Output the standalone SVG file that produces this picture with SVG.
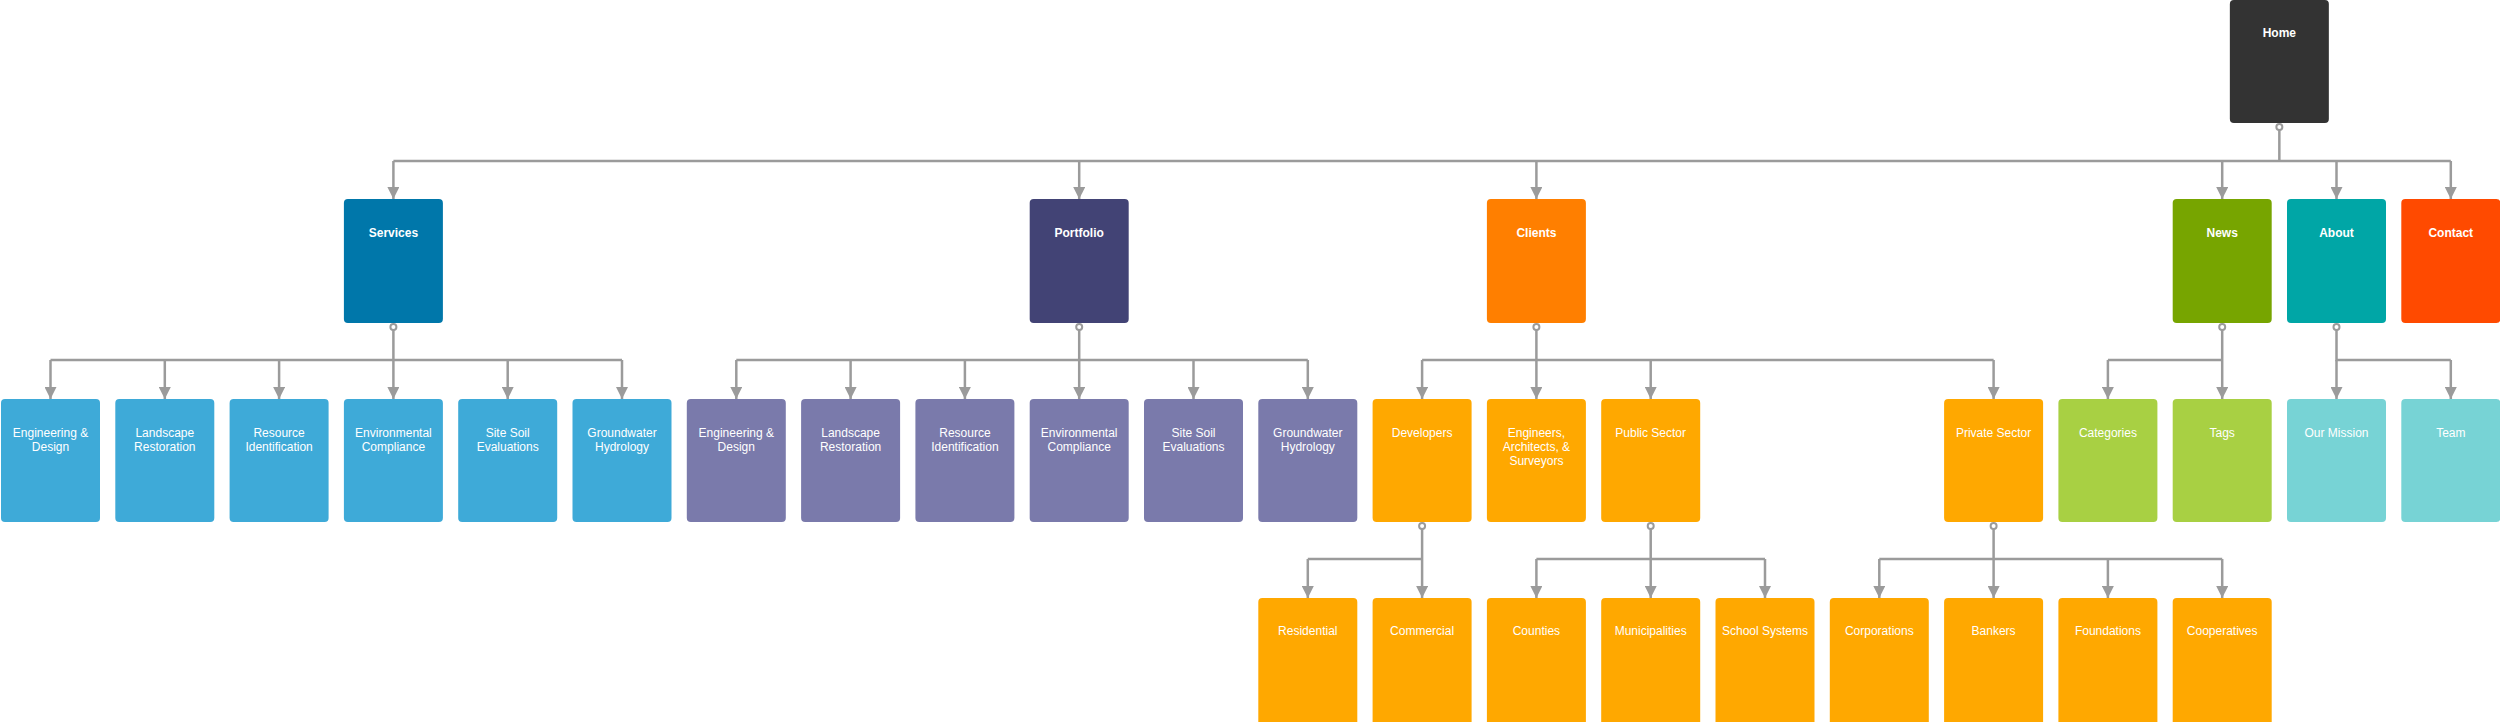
<svg xmlns="http://www.w3.org/2000/svg" width="2500" height="722" viewBox="0 0 2500 722">
<style>
.n rect{rx:4;ry:4}
text{font-family:"Liberation Sans",Arial,Helvetica,sans-serif;fill:#fff;text-anchor:middle;font-size:12px}
.b{font-weight:bold}
.c path,.c line{fill:none;stroke:#9b9b9b;stroke-width:2.5}
.c line{marker-end:url(#ar)}
.c circle{fill:#fff;stroke:#9b9b9b;stroke-width:2}
.home{fill:#333333}.svc{fill:#0077aa}.svc2{fill:#3eaad8}
.pf{fill:#424375}.pf2{fill:#7a7aab}
.cl{fill:#ff7f00}.cl2{fill:#ffa800}
.nw{fill:#77a500}.nw2{fill:#a8d043}
.ab{fill:#00a6a6}.ab2{fill:#77d3d5}
.ct{fill:#ff4a00}
</style>
<defs>
<marker id="ar" markerUnits="userSpaceOnUse" markerWidth="12" markerHeight="12" refX="12" refY="6" orient="auto">
<path d="M0,0 L12,6 L0,12 z" fill="#9b9b9b"/>
</marker>
</defs>
<rect width="2500" height="722" fill="#fff"/>
<g class="c" id="connectors">
<path d="M2279.35,130 V161 M393.4,161 H2450.8"/>
<line x1="393.4" y1="161" x2="393.4" y2="199"/>
<line x1="1079.2" y1="161" x2="1079.2" y2="199"/>
<line x1="1536.4" y1="161" x2="1536.4" y2="199"/>
<line x1="2222.2" y1="161" x2="2222.2" y2="199"/>
<line x1="2336.5" y1="161" x2="2336.5" y2="199"/>
<line x1="2450.8" y1="161" x2="2450.8" y2="199"/>
<path d="M393.4,330 V360 M50.5,360 H622"/>
<line x1="50.5" y1="360" x2="50.5" y2="399"/>
<line x1="164.8" y1="360" x2="164.8" y2="399"/>
<line x1="279.1" y1="360" x2="279.1" y2="399"/>
<line x1="393.4" y1="360" x2="393.4" y2="399"/>
<line x1="507.7" y1="360" x2="507.7" y2="399"/>
<line x1="622" y1="360" x2="622" y2="399"/>
<path d="M1079.2,330 V360 M736.3,360 H1307.8"/>
<line x1="736.3" y1="360" x2="736.3" y2="399"/>
<line x1="850.6" y1="360" x2="850.6" y2="399"/>
<line x1="964.9" y1="360" x2="964.9" y2="399"/>
<line x1="1079.2" y1="360" x2="1079.2" y2="399"/>
<line x1="1193.5" y1="360" x2="1193.5" y2="399"/>
<line x1="1307.8" y1="360" x2="1307.8" y2="399"/>
<path d="M1536.4,330 V360 M1422.1,360 H1993.6"/>
<line x1="1422.1" y1="360" x2="1422.1" y2="399"/>
<line x1="1536.4" y1="360" x2="1536.4" y2="399"/>
<line x1="1650.7" y1="360" x2="1650.7" y2="399"/>
<line x1="1993.6" y1="360" x2="1993.6" y2="399"/>
<path d="M2222.2,330 V360 M2107.9,360 H2222.2"/>
<line x1="2107.9" y1="360" x2="2107.9" y2="399"/>
<line x1="2222.2" y1="360" x2="2222.2" y2="399"/>
<path d="M2336.5,330 V360 H2450.8"/>
<line x1="2336.5" y1="360" x2="2336.5" y2="399"/>
<line x1="2450.8" y1="360" x2="2450.8" y2="399"/>
<path d="M1422.1,529 V559 M1307.8,559 H1422.1"/>
<line x1="1307.8" y1="559" x2="1307.8" y2="598"/>
<line x1="1422.1" y1="559" x2="1422.1" y2="598"/>
<path d="M1650.7,529 V559 M1536.4,559 H1765"/>
<line x1="1536.4" y1="559" x2="1536.4" y2="598"/>
<line x1="1650.7" y1="559" x2="1650.7" y2="598"/>
<line x1="1765" y1="559" x2="1765" y2="598"/>
<path d="M1993.6,529 V559 M1879.3,559 H2222.2"/>
<line x1="1879.3" y1="559" x2="1879.3" y2="598"/>
<line x1="1993.6" y1="559" x2="1993.6" y2="598"/>
<line x1="2107.9" y1="559" x2="2107.9" y2="598"/>
<line x1="2222.2" y1="559" x2="2222.2" y2="598"/>
<circle cx="2279.35" cy="127" r="3"/>
<circle cx="393.4" cy="327" r="3"/>
<circle cx="1079.2" cy="327" r="3"/>
<circle cx="1536.4" cy="327" r="3"/>
<circle cx="2222.2" cy="327" r="3"/>
<circle cx="2336.5" cy="327" r="3"/>
<circle cx="1422.1" cy="526" r="3"/>
<circle cx="1650.7" cy="526" r="3"/>
<circle cx="1993.6" cy="526" r="3"/>
</g>
<g class="n" id="home"><rect class="home" x="2229.85" y="0" width="99" height="123"/><text class="b" x="2279.35" y="37">Home</text></g>
<g class="n" id="services"><rect class="svc" x="343.9" y="199" width="99" height="124"/><text class="b" x="393.4" y="236.5">Services</text></g>
<g class="n" id="portfolio"><rect class="pf" x="1029.7" y="199" width="99" height="124"/><text class="b" x="1079.2" y="236.5">Portfolio</text></g>
<g class="n" id="clients"><rect class="cl" x="1486.9" y="199" width="99" height="124"/><text class="b" x="1536.4" y="236.5">Clients</text></g>
<g class="n" id="news"><rect class="nw" x="2172.7" y="199" width="99" height="124"/><text class="b" x="2222.2" y="236.5">News</text></g>
<g class="n" id="about"><rect class="ab" x="2287" y="199" width="99" height="124"/><text class="b" x="2336.5" y="236.5">About</text></g>
<g class="n" id="contact"><rect class="ct" x="2401.3" y="199" width="99" height="124"/><text class="b" x="2450.8" y="236.5">Contact</text></g>
<g class="n" id="s-eng"><rect class="svc2" x="1" y="399" width="99" height="123"/><text x="50.5" y="436.5">Engineering &amp;</text><text x="50.5" y="450.5">Design</text></g>
<g class="n" id="s-land"><rect class="svc2" x="115.3" y="399" width="99" height="123"/><text x="164.8" y="436.5">Landscape</text><text x="164.8" y="450.5">Restoration</text></g>
<g class="n" id="s-res"><rect class="svc2" x="229.6" y="399" width="99" height="123"/><text x="279.1" y="436.5">Resource</text><text x="279.1" y="450.5">Identification</text></g>
<g class="n" id="s-env"><rect class="svc2" x="343.9" y="399" width="99" height="123"/><text x="393.4" y="436.5">Environmental</text><text x="393.4" y="450.5">Compliance</text></g>
<g class="n" id="s-soil"><rect class="svc2" x="458.2" y="399" width="99" height="123"/><text x="507.7" y="436.5">Site Soil</text><text x="507.7" y="450.5">Evaluations</text></g>
<g class="n" id="s-gw"><rect class="svc2" x="572.5" y="399" width="99" height="123"/><text x="622" y="436.5">Groundwater</text><text x="622" y="450.5">Hydrology</text></g>
<g class="n" id="p-eng"><rect class="pf2" x="686.8" y="399" width="99" height="123"/><text x="736.3" y="436.5">Engineering &amp;</text><text x="736.3" y="450.5">Design</text></g>
<g class="n" id="p-land"><rect class="pf2" x="801.1" y="399" width="99" height="123"/><text x="850.6" y="436.5">Landscape</text><text x="850.6" y="450.5">Restoration</text></g>
<g class="n" id="p-res"><rect class="pf2" x="915.4" y="399" width="99" height="123"/><text x="964.9" y="436.5">Resource</text><text x="964.9" y="450.5">Identification</text></g>
<g class="n" id="p-env"><rect class="pf2" x="1029.7" y="399" width="99" height="123"/><text x="1079.2" y="436.5">Environmental</text><text x="1079.2" y="450.5">Compliance</text></g>
<g class="n" id="p-soil"><rect class="pf2" x="1144" y="399" width="99" height="123"/><text x="1193.5" y="436.5">Site Soil</text><text x="1193.5" y="450.5">Evaluations</text></g>
<g class="n" id="p-gw"><rect class="pf2" x="1258.3" y="399" width="99" height="123"/><text x="1307.8" y="436.5">Groundwater</text><text x="1307.8" y="450.5">Hydrology</text></g>
<g class="n" id="developers"><rect class="cl2" x="1372.6" y="399" width="99" height="123"/><text x="1422.1" y="436.5">Developers</text></g>
<g class="n" id="engineers"><rect class="cl2" x="1486.9" y="399" width="99" height="123"/><text x="1536.4" y="436.5">Engineers,</text><text x="1536.4" y="450.8">Architects, &amp;</text><text x="1536.4" y="465">Surveyors</text></g>
<g class="n" id="public"><rect class="cl2" x="1601.2" y="399" width="99" height="123"/><text x="1650.7" y="436.5">Public Sector</text></g>
<g class="n" id="private"><rect class="cl2" x="1944.1" y="399" width="99" height="123"/><text x="1993.6" y="436.5">Private Sector</text></g>
<g class="n" id="categories"><rect class="nw2" x="2058.4" y="399" width="99" height="123"/><text x="2107.9" y="436.5">Categories</text></g>
<g class="n" id="tags"><rect class="nw2" x="2172.7" y="399" width="99" height="123"/><text x="2222.2" y="436.5">Tags</text></g>
<g class="n" id="mission"><rect class="ab2" x="2287" y="399" width="99" height="123"/><text x="2336.5" y="436.5">Our Mission</text></g>
<g class="n" id="team"><rect class="ab2" x="2401.3" y="399" width="99" height="123"/><text x="2450.8" y="436.5">Team</text></g>
<g class="n" id="residential"><rect class="cl2" x="1258.3" y="598" width="99" height="128"/><text x="1307.8" y="635">Residential</text></g>
<g class="n" id="commercial"><rect class="cl2" x="1372.6" y="598" width="99" height="128"/><text x="1422.1" y="635">Commercial</text></g>
<g class="n" id="counties"><rect class="cl2" x="1486.9" y="598" width="99" height="128"/><text x="1536.4" y="635">Counties</text></g>
<g class="n" id="municipalities"><rect class="cl2" x="1601.2" y="598" width="99" height="128"/><text x="1650.7" y="635">Municipalities</text></g>
<g class="n" id="schools"><rect class="cl2" x="1715.5" y="598" width="99" height="128"/><text x="1765" y="635">School Systems</text></g>
<g class="n" id="corporations"><rect class="cl2" x="1829.8" y="598" width="99" height="128"/><text x="1879.3" y="635">Corporations</text></g>
<g class="n" id="bankers"><rect class="cl2" x="1944.1" y="598" width="99" height="128"/><text x="1993.6" y="635">Bankers</text></g>
<g class="n" id="foundations"><rect class="cl2" x="2058.4" y="598" width="99" height="128"/><text x="2107.9" y="635">Foundations</text></g>
<g class="n" id="cooperatives"><rect class="cl2" x="2172.7" y="598" width="99" height="128"/><text x="2222.2" y="635">Cooperatives</text></g>
</svg>
